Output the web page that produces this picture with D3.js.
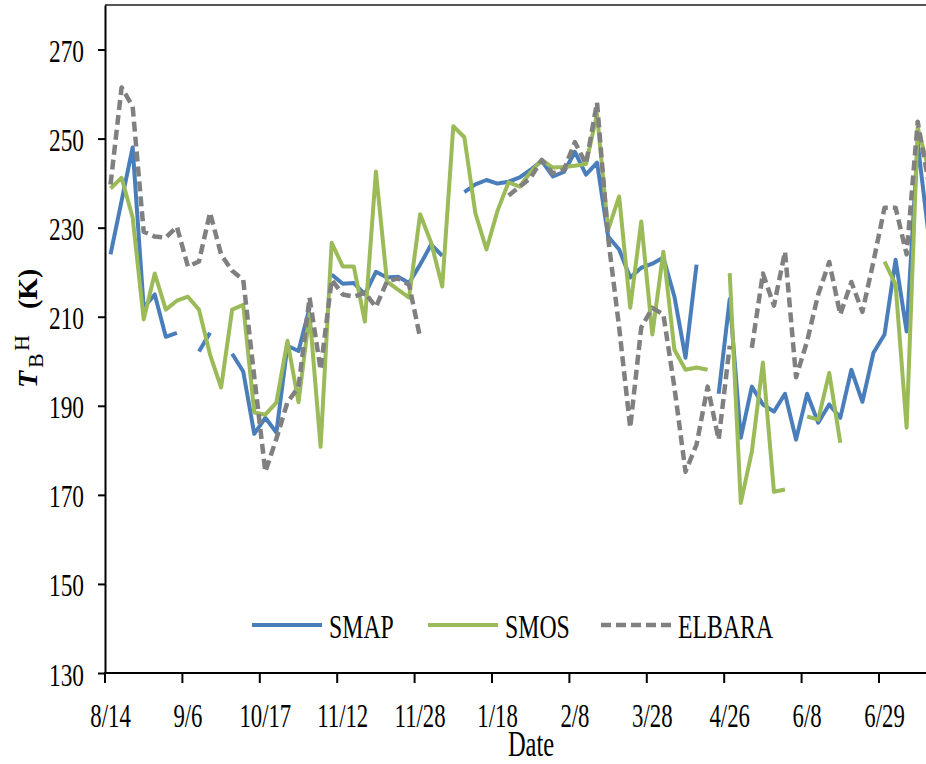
<!DOCTYPE html>
<html>
<head>
<meta charset="utf-8">
<script src="https://cdn.jsdelivr.net/npm/d3@7"></script>
<style>
  body { margin: 0; background: #fff; }
  svg { display: block; }
</style>
</head>
<body>
<svg id="chart" width="926" height="764"></svg>
<script>
// tick labels, one every 7 samples
const dates = ["8/14", "9/6", "10/17", "11/12", "11/28", "1/18", "2/8", "3/28", "4/26", "6/8", "6/29"];
const yTicks = [130, 150, 170, 190, 210, 230, 250, 270];

// brightness temperature (K), null = no data
const smap = [224, 236, 248, 212, 215, 205.5, 206.4, null, 202.2, 206.4, null, 201.7, 197.7, 183.7, 187.3,
  184, 203.5, 202.3, 212, null, 219.5, 217.4, 217.6, 215, 220.1, 218.8, 219, 217.6, 221.7, 226.2, 223.7,
  null, 238, 239.7, 240.7, 239.9, 240.3, 241.3, 243, 245, 241.5, 242.5, 247, 241.9, 244.6, 228, 225.1,
  218.8, 221, 221.9, 223.3, 214.5, 200.8, 221.7, null, 192.7, 214, 182.8, 194.3, 190.3, 188.7, 192.7,
  182.4, 192.7, 186.2, 190.3, 187.3, 198.1, 190.9, 201.9, 206, 222.8, 206.7, 249, 228];
const smos = [238.8, 241.2, 232.3, 209.4, 219.7, 211.6, 213.6, 214.5, 211.6, 201.5, 194.1, 211.6, 212.7,
  188.5, 188, 190.7, 204.6, 190.8, 210.7, 180.8, 226.6, 221.3, 221.3, 208.9, 242.6, 217.9, 216.1, 214.3,
  233, 226.6, 216.8, 252.8, 250.3, 233.2, 225.1, 233.8, 240.2, 239.2, 242.5, 245.2, 243.5, 243.6, 243.9,
  244.3, 255.5, 229.5, 237, 212, 231.4, 206, 224.6, 202.6, 198.1, 198.6, 198.1, null, 219.8, 168.2, 179.7,
  199.7, 170.7, 171.2, null, 187.6, 186.9, 197.4, 181.7, null, null, null, 222.4, 217.2, 185.1, 252.5, 243];
const elbara = [239.7, 261.5, 257.2, 229.1, 228, 227.8, 230.2, 221.3, 222.4, 233.4, 224, 220.3, 218.3,
  196.5, 175.2, 182.6, 190.8, 194.2, 214.3, 198.1, 218.3, 215, 214.5, 215.4, 212.2, 217.9, 218.6, 217.2,
  205.3, null, null, null, null, null, null, null, 237.2, 239.2, 241.2, 245.2, 242.2, 243, 249.2, 244.3,
  258.1, 227.8, 207.6, 185.1, 207.6, 212, 210.5, 194.1, 175.2, 181.3, 194.3, 182.4, 203.5, null, 203,
  219.7, 212.5, 224.6, 196.4, 204.5, 215, 222.3, 210.5, 217.8, 211.1, 222.4, 234.5, 234.5, 224, 253.8, 240];

const series = [
  { name: "SMAP", values: smap, color: "#4a7ebb", dash: null },
  { name: "SMOS", values: smos, color: "#9bbb59", dash: null },
  { name: "ELBARA", values: elbara, color: "#808080", dash: "10,5" }
];

const W = 926, H = 764;
const plotLeft = 105, plotTop = 5, plotBottom = 673;
const step = 11.057, nCat = 77, every = 7;
const font = "'Liberation Serif', 'Times New Roman', serif";

const x = d3.scaleBand().domain(d3.range(nCat)).range([plotLeft, plotLeft + nCat * step]);
const y = d3.scaleLinear().domain([130, 280]).range([plotBottom, plotTop]);
const cx = i => x(i) + x.bandwidth() / 2;

const svg = d3.select("#chart");

// top frame line
svg.append("line")
  .attr("x1", plotLeft).attr("x2", W)
  .attr("y1", y(280)).attr("y2", y(280))
  .attr("stroke", "#555").attr("stroke-width", 2);

// y axis
const yAxis = svg.append("g")
  .attr("transform", `translate(${plotLeft},0)`)
  .call(d3.axisLeft(y).tickValues(yTicks).tickSize(7).tickSizeOuter(0).tickFormat(""));
yAxis.select(".domain").attr("stroke", "#000").attr("stroke-width", 2);
yAxis.selectAll(".tick line").attr("stroke", "#000").attr("stroke-width", 2);
yAxis.selectAll(".tick").append("text")
  .attr("transform", "translate(-21,12) scale(0.73,1)")
  .attr("text-anchor", "end")
  .attr("fill", "#000")
  .style("font-family", font)
  .style("font-size", "32px")
  .text(d => d);

// x axis (ticks between groups of 7 samples, Excel style)
const gx = svg.append("g");
gx.append("line")
  .attr("x1", plotLeft - 1).attr("x2", plotLeft + nCat * step)
  .attr("y1", plotBottom).attr("y2", plotBottom)
  .attr("stroke", "#000").attr("stroke-width", 2);
const tickIdx = d3.range(0, nCat + 1, every);
gx.selectAll("line.tick").data(tickIdx).enter().append("line")
  .attr("class", "tick")
  .attr("x1", i => i < nCat ? x(i) : x.range()[1])
  .attr("x2", i => i < nCat ? x(i) : x.range()[1])
  .attr("y1", plotBottom).attr("y2", plotBottom + 10)
  .attr("stroke", "#000").attr("stroke-width", 2);
gx.selectAll("text").data(dates).enter().append("text")
  .attr("transform", (d, k) => `translate(${cx(k * every)},727) scale(0.69,1)`)
  .attr("text-anchor", "middle")
  .style("font-family", font)
  .style("font-size", "33px")
  .text(d => d);

svg.append("text")
  .attr("transform", "translate(531,756) scale(0.7,1)")
  .attr("text-anchor", "middle")
  .style("font-family", font)
  .style("font-size", "35px")
  .text("Date");

// y title: T_B^H (K)
const yt = svg.append("text")
  .attr("transform", "translate(37,388) rotate(-90)")
  .style("font-family", font)
  .attr("fill", "#000");
yt.append("tspan").attr("x", 0).attr("y", 0)
  .style("font-size", "28px").style("font-weight", "bold").style("font-style", "italic").text("T");
yt.append("tspan").attr("x", 20).attr("y", 6)
  .style("font-size", "22px").text("B");
yt.append("tspan").attr("x", 37).attr("y", -8)
  .style("font-size", "22px").text("H");
yt.append("tspan").attr("x", 79).attr("y", 0)
  .style("font-size", "28px").style("font-weight", "bold").text("(K)");

// lines
const line = d3.line()
  .defined(d => d != null)
  .x((d, i) => cx(i))
  .y(d => y(d));

svg.append("g").selectAll("path").data(series).enter().append("path")
  .attr("d", s => line(s.values))
  .attr("fill", "none")
  .attr("stroke", s => s.color)
  .attr("stroke-width", s => s.dash ? 4.5 : 4)
  .attr("stroke-linejoin", "round")
  .attr("stroke-dasharray", s => s.dash);

// legend
const legendPos = [252, 428, 601];
const lg = svg.append("g").selectAll("g").data(series).enter().append("g")
  .attr("transform", (s, k) => `translate(${legendPos[k]},625)`);
lg.append("line")
  .attr("x1", 0).attr("x2", 70).attr("y1", 0).attr("y2", 0)
  .attr("stroke", s => s.color)
  .attr("stroke-width", s => s.dash ? 4.5 : 4)
  .attr("stroke-dasharray", s => s.dash);
lg.append("text")
  .attr("transform", "translate(77,13) scale(0.7,1)")
  .style("font-family", font)
  .style("font-size", "34px")
  .text(s => s.name);
</script>
</body>
</html>
